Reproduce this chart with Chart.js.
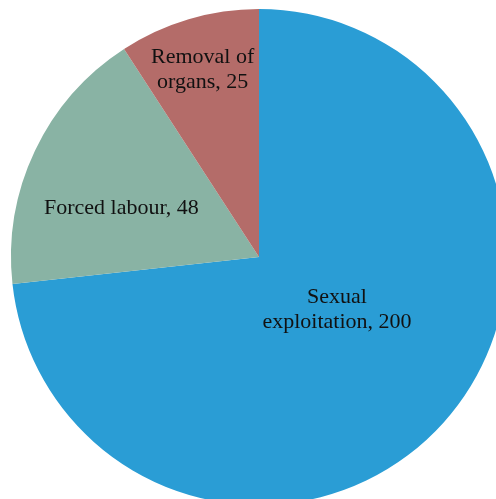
<!DOCTYPE html>
<html>
<head>
<meta charset="utf-8">
<script src="https://cdn.jsdelivr.net/npm/chart.js@4"></script>
<style>
  html, body { margin: 0; padding: 0; background: #fff; overflow: hidden; }
  #wrap { position: absolute; left: 0; top: -2px; width: 518px; height: 518px; }
</style>
</head>
<body>
<div id="wrap"><canvas id="pie"></canvas></div>
<script>
const categories = ["Sexual exploitation", "Forced labour", "Removal of organs"];
const values = [200, 48, 25];
const colors = ["#2A9DD5", "#89B3A4", "#B46C69"];

// where each label sits: angle from 12 o'clock (deg, clockwise) and fraction of radius
const labelPlaces = [
  { a: 124.2, r: 0.38, lines: ["Sexual", "exploitation, 200"] },
  { a: 289.6, r: 0.589, lines: ["Forced labour, 48"] },
  { a: 343.2, r: 0.787, lines: ["Removal of", "organs, 25"] }
];

const sliceLabels = {
  id: "sliceLabels",
  afterDatasetsDraw(chart) {
    const ctx = chart.ctx;
    const arcs = chart.getDatasetMeta(0).data;
    ctx.save();
    ctx.font = "22px 'Liberation Serif'";
    ctx.fillStyle = "#111";
    ctx.textAlign = "center";
    ctx.textBaseline = "middle";
    arcs.forEach((arc, i) => {
      const p = labelPlaces[i];
      const rad = p.a * Math.PI / 180;
      const x = arc.x + Math.sin(rad) * arc.outerRadius * p.r;
      const y = arc.y - Math.cos(rad) * arc.outerRadius * p.r;
      const lh = 25;
      const y0 = y - (p.lines.length - 1) * lh / 2;
      p.lines.forEach((t, k) => ctx.fillText(t, x, y0 + k * lh));
    });
    ctx.restore();
  }
};

new Chart(document.getElementById("pie").getContext("2d"), {
  type: "pie",
  data: {
    labels: categories,
    datasets: [{
      data: values,
      backgroundColor: colors,
      borderWidth: 0
    }]
  },
  options: {
    responsive: true,
    maintainAspectRatio: false,
    animation: false,
    layout: { padding: 11 },
    plugins: {
      legend: { display: false },
      tooltip: { enabled: false }
    }
  },
  plugins: [sliceLabels]
});
</script>
</body>
</html>
